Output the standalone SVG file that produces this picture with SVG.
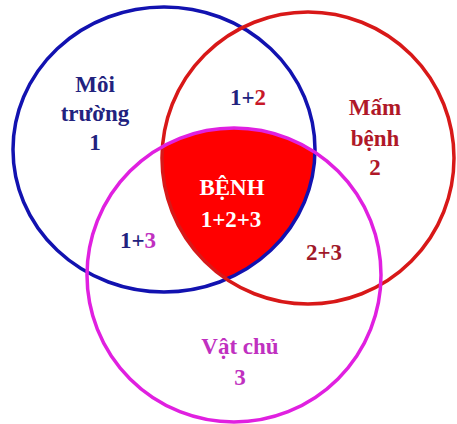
<svg xmlns="http://www.w3.org/2000/svg" width="457" height="424" viewBox="0 0 457 424">
<style>
.t{font-family:"Liberation Serif","Times New Roman",serif;font-weight:bold;font-size:23px;text-anchor:middle}
.ring{fill:none;stroke-width:3.5}
</style>
<defs>
<clipPath id="cb"><ellipse cx="164" cy="149.5" rx="151" ry="142.5"/></clipPath>
<clipPath id="cr"><circle cx="308" cy="158" r="146"/></clipPath>
</defs>
<rect width="457" height="424" fill="#fff"/>
<g id="core" clip-path="url(#cb)"><g clip-path="url(#cr)"><circle cx="234" cy="275" r="147" fill="#ff0000"/></g></g>
<g id="connectors">
<ellipse id="c1" class="ring" cx="164" cy="149.5" rx="151" ry="142.5" stroke="#1212b0"/>
<circle id="c2" class="ring" cx="308" cy="158" r="146" stroke="#d81818"/>
<circle id="c3" class="ring" cx="234" cy="275" r="147" stroke="#e020e0"/>
</g>
<g id="n1" class="t" fill="#22227e">
<text class="t" x="95" y="92">Môi</text>
<text class="t" x="95" y="121">trường</text>
<text class="t" x="95" y="150">1</text>
</g>
<g id="n2" fill="#b01828">
<text class="t" x="375" y="115">Mấm</text>
<text class="t" x="375" y="146">bệnh</text>
<text class="t" x="375" y="175">2</text>
</g>
<g id="n3" fill="#c030c0">
<text class="t" x="240" y="354">Vật chủ</text>
<text class="t" x="240" y="385">3</text>
</g>
<g id="n12"><text class="t" x="248" y="105"><tspan fill="#22227e">1+</tspan><tspan fill="#c81828">2</tspan></text></g>
<g id="n13"><text class="t" x="138" y="248"><tspan fill="#22227e">1+</tspan><tspan fill="#c030c0">3</tspan></text></g>
<g id="n23"><text class="t" x="324" y="260" fill="#a01828">2+3</text></g>
<g id="n123" fill="#fff">
<text class="t" x="232" y="195">BỆNH</text>
<text class="t" x="231" y="227">1+2+3</text>
</g>
</svg>
